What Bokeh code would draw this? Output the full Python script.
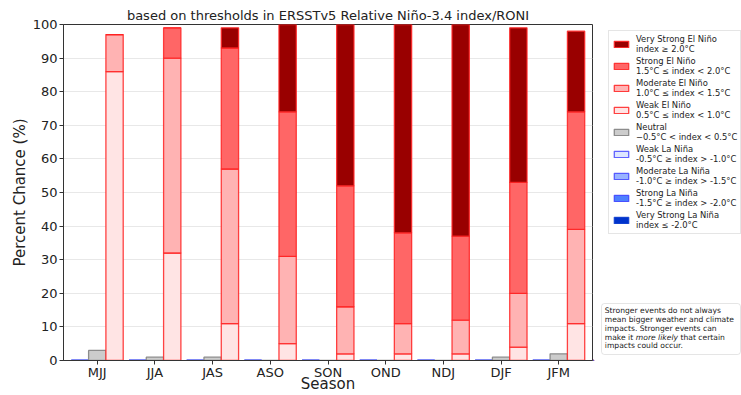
import numpy as np
from bokeh.plotting import figure
from bokeh.layouts import row
from bokeh.models import Range1d, FixedTicker, Legend, LegendItem, Label, BoxAnnotation
from bokeh.embed import file_html
from bokeh.resources import INLINE

# ---------------- data ----------------
seasons = ["MJJ", "JJA", "JAS", "ASO", "SON", "OND", "NDJ", "DJF", "JFM"]

weak_nino = [86, 32, 11, 5, 2, 2, 2, 4, 11]
moderate_nino = [11, 58, 46, 26, 14, 9, 10, 16, 28]
strong_nino = [0, 9, 36, 43, 36, 27, 25, 33, 35]
vstrong_nino = [0, 0, 6, 26, 48, 62, 63, 46, 24]

neutral = [3, 1, 1, 0, 0, 0, 0, 1, 2]

weak_nina = [0, 0, 0, 0, 0, 0, 0, 0, 0]
moderate_nina = [0, 0, 0, 0, 0, 0, 0, 0, 0]
strong_nina = [0, 0, 0, 0, 0, 0, 0, 0, 0]
vstrong_nina = [0, 0, 0, 0, 0, 0, 0, 0, 0]

y_ticks = [0, 10, 20, 30, 40, 50, 60, 70, 80, 90, 100]

labels = {
    "vs_nino": "Very Strong El Niño\nindex ≥ 2.0°C",
    "s_nino": "Strong El Niño\n1.5°C ≤ index < 2.0°C",
    "m_nino": "Moderate El Niño\n1.0°C ≤ index < 1.5°C",
    "w_nino": "Weak El Niño\n0.5°C ≤ index < 1.0°C",
    "neutral": "Neutral\n\u22120.5°C < index < 0.5°C",
    "w_nina": "Weak La Niña\n-0.5°C ≥ index > -1.0°C",
    "m_nina": "Moderate La Niña\n-1.0°C ≥ index > -1.5°C",
    "s_nina": "Strong La Niña\n-1.5°C ≥ index > -2.0°C",
    "vs_nina": "Very Strong La Niña\nindex ≤ -2.0°C",
}

note_lines = [
    [("Stronger events do not always", "normal")],
    [("mean bigger weather and climate", "normal")],
    [("impacts. Stronger events can", "normal")],
    [("make it ", "normal"), ("more likely ", "italic"), ("that certain", "normal")],
    [("impacts could occur.", "normal")],
]

styles = {  # fill, edge, edge alpha
    "w_nina": ("#dde6ff", "#3333ff", 0.75),
    "m_nina": ("#99b3ff", "#3333ff", 0.75),
    "s_nina": ("#4d80ff", "#3333ff", 0.75),
    "vs_nina": ("#0033cc", "#0033cc", 0.75),
    "neutral": ("#cccccc", "#8c8c8c", 1.0),
    "w_nino": ("#ffe4e4", "#ff2222", 0.85),
    "m_nino": ("#ffb3b3", "#ff2222", 0.85),
    "s_nino": ("#ff6666", "#ff2222", 0.85),
    "vs_nino": ("#990000", "#ff2222", 0.85),
}

FONT = "DejaVu Sans"

H = 395
W_MAIN = 593
W_SIDE = 741 - W_MAIN
TOP, BOTTOM, LEFT, RIGHT = 24, 35, 63, 1
FB = H - BOTTOM  # canvas y of the (shared) frame bottom

p = figure(width=W_MAIN, height=H, output_backend="svg", toolbar_location=None,
           x_range=Range1d(-0.585, 8.585), y_range=Range1d(0, 100),
           min_border_left=LEFT, min_border_right=RIGHT, min_border_top=TOP,
           min_border_bottom=BOTTOM)

p.title.text = "based on thresholds in ERSSTv5 Relative Niño-3.4 index/RONI"
p.title.align = "center"
p.title.text_font = FONT
p.title.text_font_size = "13px"
p.title.text_font_style = "normal"
p.title.text_color = "#222222"
p.title.standoff = 4
p.title.offset = 0

idx = np.arange(len(seasons))
bw = 0.3

def stack(x, series, keys):
    bottom = np.zeros(len(seasons))
    for vals, k in zip(series, keys):
        v = np.array(vals, dtype=float)
        fc, ec, ea = styles[k]
        p.vbar(x=x, bottom=bottom, top=bottom + v, width=bw,
               fill_color=fc, line_color=ec, line_width=1.3, line_alpha=ea)
        bottom = bottom + v

stack(idx - bw, [weak_nina, moderate_nina, strong_nina, vstrong_nina],
      ["w_nina", "m_nina", "s_nina", "vs_nina"])
stack(idx, [neutral], ["neutral"])
stack(idx + bw, [weak_nino, moderate_nino, strong_nino, vstrong_nino],
      ["w_nino", "m_nino", "s_nino", "vs_nino"])

# axes
p.xaxis.ticker = FixedTicker(ticks=list(idx))
p.xaxis.major_label_overrides = {int(i): s for i, s in zip(idx, seasons)}
p.yaxis.ticker = FixedTicker(ticks=y_ticks)
for ax in (p.xaxis, p.yaxis):
    ax.major_label_text_font = FONT
    ax.major_label_text_font_size = "13px"
    ax.major_label_text_color = "#222222"
    ax.axis_label_text_font = FONT
    ax.axis_label_text_font_size = "15px"
    ax.axis_label_text_font_style = "normal"
    ax.axis_label_text_color = "#222222"
    ax.major_tick_out = 4
    ax.major_tick_in = 0
    ax.minor_tick_line_color = None
    ax.axis_line_color = "#333333"
    ax.major_tick_line_color = "#333333"
p.xaxis.axis_label = "Season"
p.yaxis.axis_label = "Percent Chance (%)"
p.xaxis.major_label_standoff = 0
p.xaxis.axis_label_standoff = -8
p.yaxis.major_label_standoff = 2
p.yaxis.axis_label_standoff = 1

p.xgrid.grid_line_color = None
p.ygrid.grid_line_color = "#e8e8e8"
p.outline_line_color = "#333333"
p.outline_line_width = 1
p.background_fill_color = "white"
p.border_fill_color = "white"

# ---------------- side panel: legend + note ----------------
s = figure(width=W_SIDE, height=H, output_backend="svg", toolbar_location=None,
           x_range=Range1d(0, 1), y_range=Range1d(0, 1),
           x_axis_location=None, y_axis_location=None,
           min_border_left=0, min_border_right=0, min_border_top=0, min_border_bottom=0)
s.grid.visible = False
s.outline_line_color = None
s.background_fill_color = "white"
s.border_fill_color = "white"

order = ["vs_nino", "s_nino", "m_nino", "w_nino", "neutral",
         "w_nina", "m_nina", "s_nina", "vs_nina"]
items = []
for k in order:
    fc, ec, ea = styles[k]
    # legend proxy: one glyph placed outside the side panel's visible range
    rr = s.vbar(x=[-5], top=[-5], bottom=[-6], width=0.3, fill_color=fc, line_color=ec,
                line_width=1.3, line_alpha=ea)
    items.append(LegendItem(label=labels[k], renderers=[rr]))

legend = Legend(items=items, location=(15, FB - 234))
legend.label_text_font = FONT
legend.label_text_font_size = "8.4px"
legend.label_text_line_height = 1.0
legend.label_text_color = "#222222"
legend.label_height = 19
legend.glyph_height = 8
legend.glyph_width = 18
legend.spacing = 2
legend.padding = 3
legend.margin = 0
legend.label_standoff = 6
legend.border_line_color = "#cccccc"
legend.border_line_width = 1
legend.background_fill_color = "white"
legend.background_fill_alpha = 1.0
s.add_layout(legend, "center")

# note box
box = BoxAnnotation(left=8, right=147, top=FB - 303, bottom=FB - 354,
                    left_units="screen", right_units="screen",
                    top_units="screen", bottom_units="screen",
                    fill_color="white", fill_alpha=1.0,
                    line_color="#aaaaaa", line_width=1, border_radius=3)
s.add_layout(box)

fs = 7.6
em = {"make it ": 4.087, "more likely ": 5.868}
text_x = 11.3
first_center = FB - 310.2
step = 8.78
for i, parts in enumerate(note_lines):
    x = text_x
    for txt, style in parts:
        s.add_layout(Label(x=x, y=first_center - i * step, x_units="screen", y_units="screen",
                           text=txt, text_font=FONT, text_font_size=f"{fs}px",
                           text_font_style=style, text_align="left",
                           text_baseline="middle", text_color="#222222"))
        x += em.get(txt, 0) * fs

layout = row(p, s, spacing=0)
open("out.html", "w").write(file_html(layout, INLINE))
